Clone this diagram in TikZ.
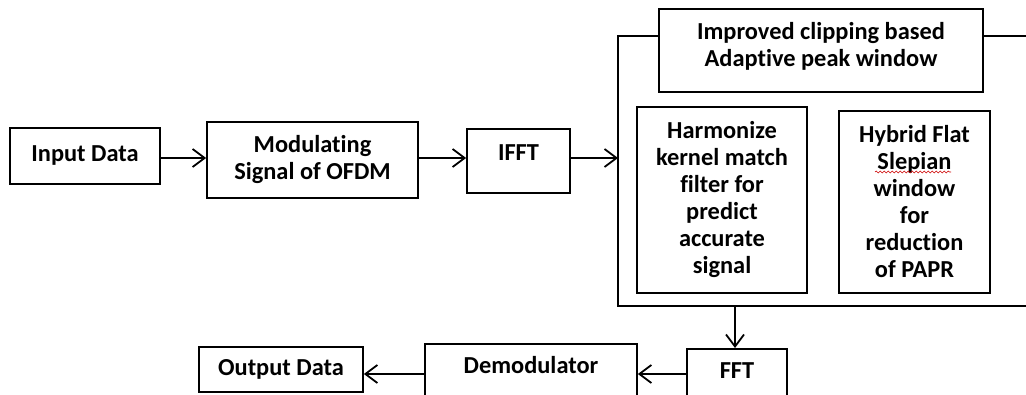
\documentclass[tikz,border=0pt]{standalone}
\usepackage{fontspec}
\setmainfont{Carlito}[RawFeature=-liga]
\usetikzlibrary{arrows.meta,decorations.pathmorphing}
\begin{document}
\begin{tikzpicture}[x=1pt,y=-1pt,
  box/.style={draw,line width=1.8pt,inner sep=0pt,align=center,
    font=\fontsize{24.4}{27}\selectfont\bfseries},
  txt/.style={inner sep=0pt,align=center,font=\fontsize{24.4}{27}\selectfont\bfseries},
  arr/.style={line width=1.8pt,-{Straight Barb[length=12pt,width=18pt,line width=1.8pt]}},
  frame/.style={line width=1.8pt}]
\useasboundingbox (0,0) rectangle (1026,394);
\clip (0,0) rectangle (1026,394);
% top row
\node[box,minimum width=150pt,minimum height=56pt] (in) at (85,156) {Input Data};
\node[box,minimum width=211pt,minimum height=76pt] (mod) at (312.5,160) {Modulating\\Signal of OFDM};
\node[box,minimum width=103pt,minimum height=64pt] (ifft) at (518.5,161) {};
\node[txt] (ifftt) at (518.5,153) {IFFT};
% big frame contents
\node[box,minimum width=324pt,minimum height=83pt] (imp) at (821,50.5) {};
\node[txt] (impt) at (821,46) {Improved clipping based\\Adaptive peak window};
\node[box,minimum width=170pt,minimum height=186pt] (harm) at (722,200)
  {Harmonize\\kernel match\\filter for\\predict\\accurate\\signal};
\node[box,minimum width=151pt,minimum height=182pt] (hyb) at (914.5,202)
  {Hybrid Flat\\Slepian\\window\\for\\reduction\\of PAPR};
\coordinate (ftl) at (618,36);
\coordinate (fbl) at (618,306);
\coordinate (fbr) at (1030,306);
\coordinate (ftr) at (1030,36);
\draw[frame] (imp.west |- ftl) -- (ftl) -- (fbl) -- (fbr);
\draw[frame] (imp.east |- ftr) -- (ftr);
% bottom row
\node[box,anchor=north,minimum width=100pt,minimum height=80pt] (fft) at (737,348) {};
\node[txt] (fftt) at (737,371) {FFT};
\node[box,anchor=north,minimum width=212pt,minimum height=80pt] (demod) at (531,343) {};
\node[txt] (demodt) at (531,365) {Demodulator};
\node[box,minimum width=164pt,minimum height=45pt] (out) at (281,369.5) {Output Data};
% connectors
\coordinate (ra) at (0,158);
\coordinate (rb) at (0,374);
\coordinate (dx) at (735,0);
\draw[arr] (in.east |- ra) -- (mod.west |- ra);
\draw[arr] (mod.east |- ra) -- (ifft.west |- ra);
\draw[arr] (ifft.east |- ra) -- (ftl |- ra);
\draw[arr] (dx |- fbl) -- (dx |- fft.north);
\draw[arr] (fft.west |- rb) -- (demod.east |- rb);
\draw[arr] (demod.west |- rb) -- (out.east |- rb);
% spell-check squiggle
\coordinate (sq1) at (875,172);
\coordinate (sq2) at (951,172);
\draw[red!80!black,line width=0.6pt,decorate,decoration={snake,amplitude=0.9pt,segment length=4pt}] (sq1) -- (sq2);
\end{tikzpicture}
\end{document}
